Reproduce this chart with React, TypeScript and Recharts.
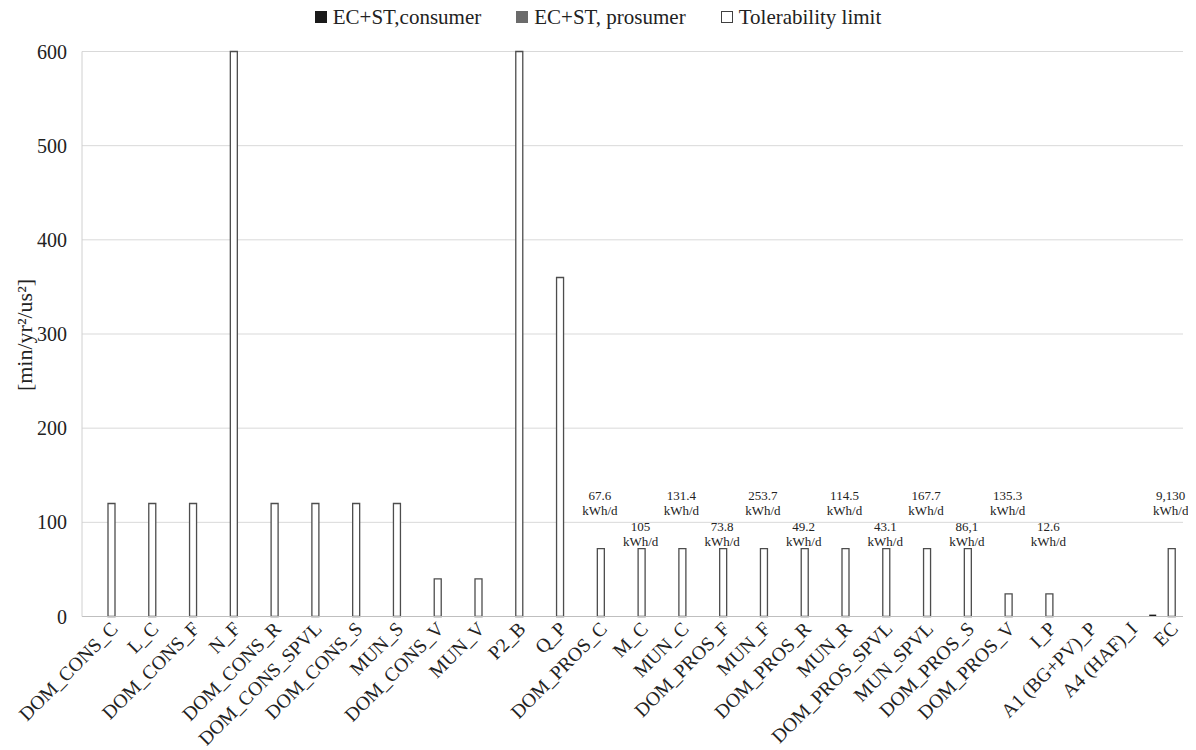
import React from 'react'
import {
  Bar,
  BarChart,
  CartesianGrid,
  LabelList,
  Legend,
  XAxis,
  YAxis,
} from 'recharts'

const categories = [
  'DOM_CONS_C', 'L_C', 'DOM_CONS_F', 'N_F', 'DOM_CONS_R', 'DOM_CONS_SPVL',
  'DOM_CONS_S', 'MUN_S', 'DOM_CONS_V', 'MUN_V', 'P2_B', 'Q_P',
  'DOM_PROS_C', 'M_C', 'MUN_C', 'DOM_PROS_F', 'MUN_F', 'DOM_PROS_R',
  'MUN_R', 'DOM_PROS_SPVL', 'MUN_SPVL', 'DOM_PROS_S', 'DOM_PROS_V', 'I_P',
  'A1 (BG+PV)_P', 'A4 (HAF)_I', 'EC',
]

const consumer = [
  0, 0, 0, 0, 0, 0, 0, 0, 0, 0, 0, 0, 0, 0, 0, 0, 0, 0, 0, 0, 0, 0, 0, 0, 0, 0, 2,
]

const prosumer = [
  0, 0, 0, 0, 0, 0, 0, 0, 0, 0, 0, 0, 0, 0, 0, 0, 0, 0, 0, 0, 0, 0, 0, 0, 0, 0, 0,
]

const tolerability = [
  120, 120, 120, 600, 120, 120, 120, 120, 40, 40, 600, 360,
  72, 72, 72, 72, 72, 72, 72, 72, 72, 72, 24, 24, 0, 0, 72,
]

const energyLabels = [
  '', '', '', '', '', '', '', '', '', '', '', '',
  '67.6', '105', '131.4', '73.8', '253.7', '49.2', '114.5', '43.1', '167.7',
  '86,1', '135.3', '12.6', '1,387', '7,566', '9,130',
]

const seriesNames = ['EC+ST,consumer', 'EC+ST, prosumer', 'Tolerability limit']
const yTicks = [0, 100, 200, 300, 400, 500, 600]

const FONT = '"Liberation Serif", "Times New Roman", serif'
const TEXT = '#222222'

const data = categories.map((name, i) => ({
  name,
  consumer: consumer[i],
  prosumer: prosumer[i],
  limit: tolerability[i],
  energy: energyLabels[i],
}))

const swatches = [
  { fill: '#1a1a1a', stroke: '#1a1a1a' },
  { fill: '#6b6b6b', stroke: '#6b6b6b' },
  { fill: '#ffffff', stroke: '#404040' },
]

function ChartLegend() {
  return (
    <div
      style={{
        display: 'flex',
        justifyContent: 'center',
        alignItems: 'center',
        height: 30,
        gap: 35,
        paddingLeft: 5,
        fontFamily: FONT,
        fontSize: 21,
        color: TEXT,
      }}
    >
      {seriesNames.map((name, i) => (
        <div key={name} style={{ display: 'flex', alignItems: 'center' }}>
          <span
            style={{
              display: 'inline-block',
              width: 10,
              height: 10,
              background: swatches[i].fill,
              border: `1px solid ${swatches[i].stroke}`,
              marginRight: 6,
            }}
          />
          <span>{name}</span>
        </div>
      ))}
    </div>
  )
}

function RotatedTick(props: any) {
  const { x, y, payload } = props
  const px = x + 12
  const py = y + 1
  return (
    <text
      x={px}
      y={py}
      textAnchor="end"
      dominantBaseline="central"
      transform={`rotate(-45 ${px} ${py})`}
      fontFamily={FONT}
      fontSize={19.5}
      fill={TEXT}
    >
      {payload.value}
    </text>
  )
}

function EnergyLabel(props: any) {
  const { x, y, width, height, value, index } = props
  if (!value) return null
  const cx = x + width / 2 - 1
  const base = y + height
  const upper = index % 2 === 0
  const top = upper ? base - 121.5 : base - 90.5
  return (
    <g fontFamily={FONT} fontSize={13} fill={TEXT} textAnchor="middle">
      <text x={cx} y={top} dominantBaseline="central">
        {value}
      </text>
      <text x={cx} y={top + 15} dominantBaseline="central">
        kWh/d
      </text>
    </g>
  )
}

function AxisTitle(props: any) {
  const { viewBox } = props
  const cx = viewBox.x + 16
  const cy = viewBox.y + viewBox.height / 2 + 1
  return (
    <text
      x={cx}
      y={cy}
      transform={`rotate(-90 ${cx} ${cy})`}
      textAnchor="middle"
      dominantBaseline="central"
      fontFamily={FONT}
      fontSize={22}
      fill={TEXT}
    >
      [min/yr²/us²]
    </text>
  )
}

export default function App() {
  return (
    <div style={{ width: 1180, height: 742 }}>
      <style>
        {'html, body { overflow: hidden; } .recharts-surface { display: block; overflow: visible !important; }'}
      </style>
      <BarChart
        width={1180}
        height={742}
        data={data}
        margin={{ top: 13.5, right: 5, bottom: 5.5, left: 0 }}
        barGap={2.5}
        barSize={7}
      >
        <CartesianGrid vertical={false} stroke="#d9d9d9" />
        <Legend
          verticalAlign="top"
          wrapperStyle={{ top: -6, left: 0 }}
          content={() => <ChartLegend />}
        />
        <XAxis
          dataKey="name"
          interval={0}
          height={128}
          tickLine={false}
          axisLine={{ stroke: '#bfbfbf' }}
          tick={<RotatedTick />}
        />
        <YAxis
          width={74}
          domain={[0, 600]}
          ticks={yTicks}
          tickLine={false}
          axisLine={{ stroke: '#d0d0d0' }}
          tickMargin={9}
          tick={{ fontFamily: FONT, fontSize: 20, fill: TEXT }}
          label={<AxisTitle />}
        />
        <Bar dataKey="consumer" fill="#1a1a1a" isAnimationActive={false} />
        <Bar dataKey="prosumer" fill="#6b6b6b" isAnimationActive={false} />
        <Bar
          dataKey="limit"
          fill="#ffffff"
          stroke="#4d4d4d"
          strokeWidth={1.3}
          isAnimationActive={false}
        >
          <LabelList dataKey="energy" content={<EnergyLabel />} />
        </Bar>
      </BarChart>
    </div>
  )
}
